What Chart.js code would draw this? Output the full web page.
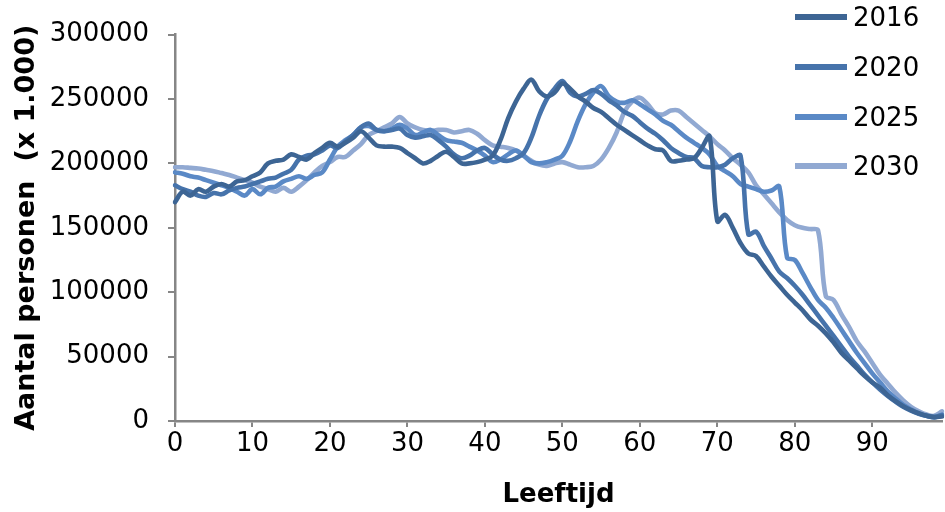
<!DOCTYPE html>
<html>
<head>
<meta charset="utf-8">
<script src="https://cdn.jsdelivr.net/npm/chart.js@4/dist/chart.umd.min.js"></script>
<style>
  html, body { margin: 0; padding: 0; background: #ffffff; }
  #wrap { position: relative; width: 945px; height: 512px; overflow: hidden; }
  #legend { position: absolute; left: 795px; top: 0; font-family: "DejaVu Sans", Verdana, sans-serif; font-size: 26px; color: #000; }
  .item { position: absolute; left: 0; width: 150px; height: 30px; }
  .swatch { position: absolute; left: 0; top: 12px; width: 52px; height: 6px; }
  .lbl { position: absolute; left: 58px; top: 0; line-height: 30px; white-space: nowrap; }
</style>
</head>
<body>
<div id="wrap">
  <canvas id="c" width="945" height="512"></canvas>
  <div id="legend"></div>
</div>
<script>
const ages = [0,1,2,3,4,5,6,7,8,9,10,11,12,13,14,15,16,17,18,19,20,21,22,23,24,25,26,27,28,29,30,31,32,33,34,35,36,37,38,39,40,41,42,43,44,45,46,47,48,49,50,51,52,53,54,55,56,57,58,59,60,61,62,63,64,65,66,67,68,69,70,71,72,73,74,75,76,77,78,79,80,81,82,83,84,85,86,87,88,89,90,91,92,93,94,95,96,97,98,99];

const seriesNames = ["2016", "2020", "2025", "2030"];
const seriesColors = ["#3d6594", "#4673ab", "#5a89c6", "#91a9d2"];

const y2016 = [170000,178000,175000,180000,178000,182000,184000,182000,186000,187000,
  190000,193000,200000,202000,203000,207000,205000,203000,208000,212000,
  216000,213000,216000,220000,225000,220000,214000,213000,213000,212000,
  208000,204000,200000,202000,206000,209000,205000,200000,200000,201000,
  203000,206000,218000,235000,248000,258000,265000,256000,252000,255000,
  262000,258000,252000,248000,243000,240000,235000,230000,226000,222000,
  218000,214000,211000,210000,202000,202000,203000,204000,212000,221000,
  155000,160000,150000,138000,130000,128000,120000,112000,105000,98000,
  92000,86000,79000,74000,68000,61000,53000,47000,41000,35000,
  30000,26000,20000,15500,11500,8500,6000,4000,3000,3500];

const y2020 = [183000,180000,178000,175000,174000,177000,176000,179000,181000,182000,
  184000,186000,188000,189000,192000,195000,203000,206000,207000,210000,
  214000,212000,217000,222000,228000,231000,226000,225000,226000,227000,
  222000,220000,221000,222000,218000,213000,207000,204000,206000,210000,
  212000,207000,203000,202000,204000,208000,220000,237000,250000,258000,
  264000,255000,252000,254000,257000,254000,249000,245000,240000,237000,
  232000,227000,223000,218000,212000,208000,205000,204000,198000,197000,
  197000,199000,204000,206000,145000,147000,136000,126000,116000,111000,
  105000,98000,90000,82000,74000,66000,58000,50000,43000,36000,
  30000,24500,19500,15000,11000,8000,5500,4000,3000,4500];

const y2025 = [193000,192000,190000,189000,187000,185000,183000,181000,178000,175000,
  180000,176000,181000,182000,186000,188000,190000,188000,191000,193000,
  203000,213000,218000,222000,228000,229000,226000,225000,227000,230000,
  227000,222000,224000,226000,222000,218000,217000,216000,213000,210000,
  206000,201000,203000,207000,210000,206000,201000,200000,201000,203000,
  206000,217000,233000,246000,255000,260000,252000,248000,247000,249000,
  246000,242000,238000,233000,230000,225000,220000,216000,212000,207000,
  198000,194000,190000,184000,182000,180000,178000,179000,182000,127000,
  125000,115000,104000,94000,88000,80000,71000,62000,53000,45000,
  37000,30000,23000,17500,12500,9000,6000,4000,3000,5000];

const y2030 = [197000,197000,196500,196000,195000,194000,192500,191000,189000,187000,
  185000,182000,180000,178000,181000,178000,182000,187000,193000,198000,
  201000,205000,205000,210000,215000,222000,225000,228000,231000,236000,
  231000,228000,226000,225000,226000,226000,224000,225000,226000,223000,
  218000,214000,213000,212000,210000,206000,202000,199000,198000,200000,
  201000,199000,197000,197000,198000,203000,212000,224000,240000,248000,
  251000,246000,239000,238000,241000,241000,236000,231000,226000,221000,
  215000,210000,204000,199000,193000,183000,176000,169000,162000,156000,
  152000,150000,149000,148000,97000,94000,83000,73000,62000,54000,
  45000,36000,29000,22000,16000,11000,7500,5000,4000,7500];

const yTicksMax = 300000;
const yTickStep = 50000;
const xLabelEvery = 10;

const seriesValues = [y2016, y2020, y2025, y2030];

const datasets = seriesNames.map((name, i) => ({
  label: name,
  data: seriesValues[i],
  borderColor: seriesColors[i],
  backgroundColor: seriesColors[i],
  borderWidth: 4.6,
  pointRadius: 0,
  pointHoverRadius: 0,
  tension: 0.35,
  fill: false,
  borderCapStyle: 'round',
  borderJoinStyle: 'round'
}));

// HTML legend
const legendEl = document.getElementById('legend');
const legendTops = [2, 52, 102, 151];
seriesNames.forEach((name, i) => {
  const it = document.createElement('div');
  it.className = 'item';
  it.style.top = legendTops[i] + 'px';
  const sw = document.createElement('div');
  sw.className = 'swatch';
  sw.style.background = seriesColors[i];
  const lb = document.createElement('div');
  lb.className = 'lbl';
  lb.textContent = name;
  it.appendChild(sw); it.appendChild(lb);
  legendEl.appendChild(it);
});

const axisGray = '#868686';
const fontFam = '"DejaVu Sans", Verdana, sans-serif';

new Chart(document.getElementById('c'), {
  type: 'line',
  data: { labels: ages, datasets: datasets },
  options: {
    responsive: false,
    animation: false,
    devicePixelRatio: 1,
    layout: { padding: { top: 26, right: 3, left: 0, bottom: 0 } },
    plugins: { legend: { display: false }, tooltip: { enabled: false } },
    scales: {
      x: {
        type: 'category',
        offset: false,
        border: { display: true, color: axisGray, width: 2.5 },
        grid: { display: true, drawOnChartArea: false, drawTicks: true, tickLength: 6, color: axisGray, lineWidth: 2 },
        ticks: {
          autoSkip: false,
          maxRotation: 0,
          minRotation: 0,
          padding: 2,
          color: '#000',
          font: { family: fontFam, size: 26 },
          callback: function(val) {
            const a = ages[val];
            return (a % xLabelEvery === 0) ? String(a) : null;
          }
        },
        title: { display: true, text: 'Leeftijd', color: '#000', font: { family: fontFam, size: 26, weight: 'bold' }, padding: { top: 0, bottom: 1 } },
        afterFit: function(scale) { scale.height = 91; }
      },
      y: {
        min: 0,
        max: yTicksMax,
        border: { display: true, color: axisGray, width: 2.5 },
        grid: { display: true, drawOnChartArea: false, drawTicks: true, tickLength: 7, color: axisGray, lineWidth: 2 },
        ticks: {
          stepSize: yTickStep,
          padding: 19,
          color: '#000',
          font: { family: fontFam, size: 26 },
          callback: function(v) { return String(v); }
        },
        title: { display: true, text: 'Aantal personen  (x 1.000)', color: '#000', font: { family: fontFam, size: 27, weight: 'bold' }, padding: { top: 11, bottom: 0 } },
        afterFit: function(scale) { scale.width = 175; }
      }
    }
  }
});
</script>
</body>
</html>
